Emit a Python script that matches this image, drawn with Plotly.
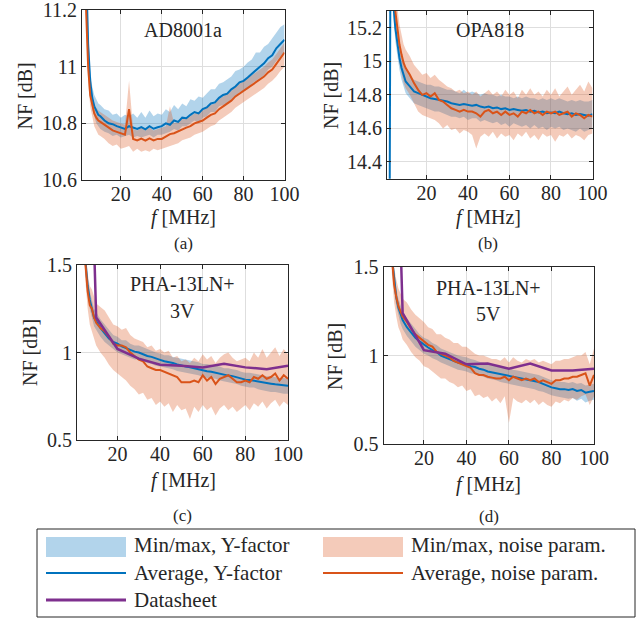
import plotly.graph_objects as go

W, H = 644, 618

# ---------------- data ----------------
FREQ = [1, 2, 3, 4, 5, 6, 7, 8, 9, 10, 12, 14, 16, 18, 20, 22, 24, 26, 28, 30,
        32, 34, 36, 38, 40, 42, 44, 46, 48, 50, 52, 54, 56, 58, 60, 62, 64, 66, 68, 70,
        72, 74, 76, 78, 80, 82, 84, 86, 88, 90, 92, 94, 96, 98, 100]

# (a) AD8001a
a_yf_avg = [12.8, 11.9, 11.35, 11.08, 10.95, 10.89, 10.86, 10.845, 10.83, 10.825,
            10.81, 10.80, 10.797, 10.79, 10.786, 10.78, 10.79, 10.784, 10.78, 10.787,
            10.779, 10.79, 10.781, 10.786, 10.79, 10.80, 10.795, 10.81, 10.805, 10.82,
            10.818, 10.83, 10.84, 10.835, 10.85, 10.856, 10.87, 10.874, 10.89, 10.90,
            10.905, 10.92, 10.93, 10.945, 10.95, 10.962, 10.975, 10.99, 11.0, 11.012,
            11.03, 11.04, 11.065, 11.08, 11.095]
a_yf_min = [12.7, 11.8, 11.3, 11.04, 10.91, 10.85, 10.82, 10.80, 10.79, 10.78,
            10.77, 10.765, 10.755, 10.76, 10.75, 10.755, 10.76, 10.75, 10.755, 10.75,
            10.755, 10.76, 10.75, 10.76, 10.76, 10.765, 10.77, 10.78, 10.775, 10.79,
            10.79, 10.80, 10.81, 10.80, 10.82, 10.825, 10.84, 10.84, 10.86, 10.865,
            10.87, 10.885, 10.895, 10.91, 10.915, 10.92, 10.94, 10.95, 10.96, 10.97,
            10.99, 11.0, 11.02, 11.035, 11.05]
a_yf_max = [12.9, 12.0, 11.42, 11.13, 10.99, 10.93, 10.90, 10.885, 10.87, 10.865,
            10.85, 10.845, 10.83, 10.835, 10.82, 10.83, 10.825, 10.835, 10.82, 10.84,
            10.82, 10.845, 10.825, 10.835, 10.83, 10.85, 10.84, 10.865, 10.85, 10.87,
            10.86, 10.885, 10.88, 10.895, 10.89, 10.905, 10.92, 10.92, 10.94, 10.945,
            10.955, 10.965, 10.985, 10.99, 11.0, 11.015, 11.025, 11.05, 11.05, 11.07,
            11.08, 11.1, 11.12, 11.14, 11.15]
a_np_avg = [12.6, 11.7, 11.2, 11.0, 10.9, 10.86, 10.835, 10.82, 10.81, 10.805,
            10.795, 10.785, 10.775, 10.77, 10.765, 10.76, 10.85, 10.745, 10.74, 10.746,
            10.739, 10.747, 10.74, 10.745, 10.745, 10.755, 10.762, 10.765, 10.772, 10.78,
            10.785, 10.79, 10.80, 10.805, 10.81, 10.82, 10.83, 10.835, 10.85, 10.86,
            10.87, 10.88, 10.895, 10.905, 10.915, 10.925, 10.935, 10.945, 10.955, 10.965,
            10.98, 10.99, 11.01, 11.03, 11.05]
a_np_min = [12.5, 11.6, 11.14, 10.95, 10.86, 10.82, 10.79, 10.775, 10.76, 10.755,
            10.745, 10.73, 10.72, 10.725, 10.71, 10.715, 10.72, 10.70, 10.71, 10.70,
            10.705, 10.70, 10.71, 10.705, 10.71, 10.715, 10.72, 10.725, 10.73, 10.74,
            10.745, 10.75, 10.76, 10.765, 10.77, 10.78, 10.79, 10.795, 10.81, 10.82,
            10.83, 10.84, 10.855, 10.865, 10.875, 10.885, 10.895, 10.905, 10.915, 10.925,
            10.94, 10.95, 10.965, 10.985, 11.0]
a_np_max = [12.7, 11.8, 11.26, 11.04, 10.94, 10.9, 10.87, 10.855, 10.845, 10.84,
            10.83, 10.82, 10.81, 10.805, 10.80, 10.795, 10.95, 10.78, 10.775, 10.785,
            10.775, 10.785, 10.775, 10.78, 10.785, 10.79, 10.86, 10.8, 10.805, 10.815,
            10.82, 10.825, 10.835, 10.84, 10.845, 10.855, 10.865, 10.87, 10.885, 10.895,
            10.905, 10.915, 10.93, 10.94, 10.95, 10.96, 10.97, 10.98, 10.99, 11.0,
            11.015, 11.025, 11.045, 11.065, 11.085]

# (b) OPA818
b_yf_avg = [13.0, 13.0, 17.0, 15.35, 15.2, 15.1, 15.02, 14.96, 14.92, 14.88,
            14.85, 14.82, 14.81, 14.80, 14.79, 14.78, 14.775, 14.77, 14.765, 14.76,
            14.75, 14.745, 14.74, 14.745, 14.74, 14.735, 14.74, 14.73, 14.725, 14.73,
            14.72, 14.725, 14.715, 14.72, 14.71, 14.715, 14.71, 14.705, 14.71, 14.70,
            14.705, 14.695, 14.70, 14.69, 14.695, 14.69, 14.70, 14.69, 14.685, 14.69,
            14.68, 14.685, 14.68, 14.675, 14.685]
b_yf_min = [12.9, 12.9, 16.9, 15.28, 15.12, 15.02, 14.95, 14.89, 14.85, 14.81,
            14.78, 14.75, 14.74, 14.73, 14.72, 14.71, 14.70, 14.70, 14.69, 14.68,
            14.67, 14.67, 14.66, 14.67, 14.65, 14.66, 14.66, 14.64, 14.65, 14.64,
            14.63, 14.64, 14.62, 14.63, 14.61, 14.63, 14.62, 14.61, 14.62, 14.60,
            14.62, 14.60, 14.61, 14.59, 14.61, 14.60, 14.61, 14.59, 14.60, 14.59,
            14.58, 14.60, 14.58, 14.59, 14.60]
b_yf_max = [13.1, 13.1, 17.1, 15.42, 15.28, 15.17, 15.09, 15.03, 14.99, 14.95,
            14.92, 14.89, 14.88, 14.87, 14.86, 14.86, 14.85, 14.85, 14.84, 14.83,
            14.83, 14.82, 14.81, 14.83, 14.81, 14.82, 14.81, 14.80, 14.81, 14.80,
            14.80, 14.79, 14.80, 14.79, 14.79, 14.78, 14.79, 14.78, 14.79, 14.78,
            14.78, 14.77, 14.78, 14.77, 14.78, 14.77, 14.78, 14.77, 14.76, 14.77,
            14.76, 14.77, 14.76, 14.76, 14.77]
b_np_avg = [17.0, 16.5, 15.9, 15.5, 15.3, 15.18, 15.1, 15.04, 14.99, 14.96,
            14.92, 14.87, 14.83, 14.80, 14.81, 14.79, 14.81, 14.77, 14.76, 14.74,
            14.72, 14.71, 14.70, 14.71, 14.70, 14.70, 14.69, 14.67, 14.70, 14.71,
            14.69, 14.70, 14.68, 14.70, 14.68, 14.69, 14.67, 14.70, 14.69, 14.71,
            14.69, 14.70, 14.68, 14.70, 14.69, 14.70, 14.68, 14.69, 14.70, 14.67,
            14.69, 14.68, 14.66, 14.68, 14.67]
b_np_min = [16.9, 16.4, 15.8, 15.4, 15.2, 15.08, 14.99, 14.93, 14.87, 14.84,
            14.80, 14.75, 14.70, 14.68, 14.67, 14.66, 14.65, 14.63, 14.60, 14.62,
            14.59, 14.60, 14.57, 14.59, 14.58, 14.56, 14.48, 14.55, 14.57, 14.55,
            14.58, 14.54, 14.57, 14.55, 14.56, 14.53, 14.57, 14.55, 14.58, 14.54,
            14.56, 14.53, 14.57, 14.55, 14.56, 14.52, 14.56, 14.55, 14.57, 14.54,
            14.56, 14.55, 14.53, 14.56, 14.57]
b_np_max = [17.1, 16.6, 16.0, 15.6, 15.42, 15.3, 15.22, 15.16, 15.1, 15.07,
            15.03, 14.98, 14.95, 14.92, 14.93, 14.90, 14.92, 14.89, 14.87, 14.85,
            14.84, 14.82, 14.83, 14.81, 14.82, 14.80, 14.82, 14.79, 14.81, 14.83,
            14.80, 14.82, 14.79, 14.83, 14.80, 14.82, 14.78, 14.83, 14.80, 14.84,
            14.80, 14.82, 14.79, 14.83, 14.80, 14.84, 14.79, 14.82, 14.85, 14.80,
            14.83, 14.86, 14.82, 14.88, 14.84]

# (c) PHA-13LN+ 3V
c_yf_avg = [3.2, 2.6, 2.1, 1.75, 1.52, 1.38, 1.3, 1.24, 1.2, 1.18,
            1.14, 1.11, 1.08, 1.06, 1.05, 1.035, 1.025, 1.015, 1.005, 1.0,
            0.99, 0.98, 0.975, 0.965, 0.958, 0.95, 0.946, 0.94, 0.932, 0.925,
            0.92, 0.916, 0.91, 0.905, 0.895, 0.893, 0.89, 0.884, 0.88, 0.87,
            0.868, 0.865, 0.858, 0.85, 0.845, 0.843, 0.838, 0.835, 0.83, 0.825,
            0.822, 0.818, 0.815, 0.81, 0.81]
c_yf_min = [3.1, 2.5, 2.0, 1.68, 1.46, 1.33, 1.25, 1.19, 1.15, 1.13,
            1.09, 1.06, 1.04, 1.02, 1.0, 0.99, 0.98, 0.97, 0.96, 0.96,
            0.95, 0.94, 0.935, 0.925, 0.92, 0.915, 0.91, 0.905, 0.895, 0.89,
            0.885, 0.88, 0.875, 0.87, 0.86, 0.855, 0.855, 0.85, 0.84, 0.835,
            0.83, 0.825, 0.82, 0.81, 0.805, 0.80, 0.80, 0.79, 0.785, 0.78,
            0.775, 0.775, 0.77, 0.765, 0.765]
c_yf_max = [3.3, 2.7, 2.2, 1.82, 1.58, 1.43, 1.35, 1.29, 1.25, 1.23,
            1.19, 1.16, 1.13, 1.10, 1.09, 1.07, 1.07, 1.05, 1.04, 1.04,
            1.03, 1.02, 1.01, 1.0, 0.995, 0.985, 0.985, 0.975, 0.97, 0.965,
            0.96, 0.955, 0.95, 0.945, 0.935, 0.935, 0.93, 0.925, 0.92, 0.91,
            0.91, 0.905, 0.90, 0.89, 0.885, 0.885, 0.88, 0.875, 0.87, 0.865,
            0.865, 0.86, 0.855, 0.855, 0.85]
c_np_avg = [3.0, 2.5, 2.0, 1.7, 1.5, 1.35, 1.27, 1.25, 1.2, 1.17,
            1.14, 1.12, 1.09, 1.05, 1.04, 1.04, 1.03, 1.0, 0.98, 0.96,
            0.95, 0.92, 0.91, 0.90, 0.90, 0.89, 0.88, 0.87, 0.86, 0.83,
            0.83, 0.83, 0.84, 0.83, 0.87, 0.84, 0.86, 0.82, 0.85, 0.86,
            0.87, 0.85, 0.83, 0.83, 0.84, 0.83, 0.86, 0.85, 0.87, 0.85,
            0.86, 0.88, 0.84, 0.87, 0.85]
c_np_min = [2.9, 2.4, 1.9, 1.6, 1.4, 1.25, 1.16, 1.12, 1.08, 1.04,
            1.0, 0.97, 0.93, 0.90, 0.88, 0.86, 0.84, 0.81, 0.79, 0.76,
            0.77, 0.73, 0.74, 0.70, 0.72, 0.69, 0.71, 0.66, 0.70, 0.67,
            0.68, 0.62, 0.69, 0.66, 0.70, 0.67, 0.69, 0.64, 0.68, 0.70,
            0.67, 0.69, 0.66, 0.68, 0.70, 0.67, 0.71, 0.69, 0.72, 0.68,
            0.71, 0.73, 0.69, 0.72, 0.70]
c_np_max = [3.1, 2.6, 2.1, 1.8, 1.6, 1.45, 1.38, 1.36, 1.32, 1.28,
            1.26, 1.24, 1.20, 1.16, 1.15, 1.13, 1.14, 1.10, 1.08, 1.07,
            1.06, 1.03, 1.04, 1.01, 1.02, 1.0, 1.01, 0.97, 0.98, 0.95,
            0.96, 0.94, 0.97, 0.95, 0.99, 0.96, 0.98, 0.94, 0.97, 0.99,
            1.0, 0.97, 0.95, 0.96, 0.97, 0.95, 1.0, 0.97, 1.02, 0.97,
            1.0, 1.03, 0.98, 1.02, 0.99]
c_ds_freq = [5, 10, 20, 30, 40, 50, 60, 70, 80, 90, 100]
c_ds_nf = [3.3, 1.2, 1.02, 0.965, 0.93, 0.925, 0.915, 0.935, 0.915, 0.905, 0.925]

# (d) PHA-13LN+ 5V
d_yf_avg = [3.2, 2.6, 2.1, 1.75, 1.55, 1.42, 1.33, 1.27, 1.23, 1.2,
            1.16, 1.13, 1.1, 1.08, 1.06, 1.045, 1.03, 1.02, 1.0, 0.99,
            0.98, 0.97, 0.96, 0.955, 0.95, 0.94, 0.935, 0.925, 0.92, 0.91,
            0.905, 0.9, 0.895, 0.89, 0.885, 0.88, 0.875, 0.87, 0.865, 0.86,
            0.855, 0.85, 0.84, 0.83, 0.82, 0.815, 0.81, 0.81, 0.805, 0.81,
            0.8, 0.805, 0.79, 0.795, 0.8]
d_yf_min = [3.1, 2.5, 2.0, 1.68, 1.49, 1.36, 1.28, 1.22, 1.18, 1.15,
            1.11, 1.08, 1.05, 1.03, 1.01, 1.0, 0.985, 0.975, 0.96, 0.95,
            0.94, 0.93, 0.92, 0.915, 0.91, 0.9, 0.895, 0.885, 0.88, 0.87,
            0.865, 0.86, 0.85, 0.845, 0.84, 0.835, 0.83, 0.825, 0.82, 0.815,
            0.81, 0.8, 0.795, 0.785, 0.775, 0.77, 0.765, 0.76, 0.755, 0.76,
            0.745, 0.755, 0.735, 0.745, 0.75]
d_yf_max = [3.3, 2.7, 2.2, 1.82, 1.61, 1.48, 1.38, 1.32, 1.28, 1.25,
            1.21, 1.18, 1.15, 1.12, 1.1, 1.09, 1.07, 1.06, 1.04, 1.03,
            1.02, 1.01, 1.0, 0.995, 0.99, 0.98, 0.975, 0.965, 0.96, 0.95,
            0.945, 0.94, 0.935, 0.93, 0.93, 0.92, 0.915, 0.91, 0.905, 0.9,
            0.895, 0.89, 0.88, 0.87, 0.86, 0.855, 0.85, 0.85, 0.845, 0.85,
            0.84, 0.845, 0.83, 0.835, 0.84]
d_np_avg = [3.0, 2.5, 2.05, 1.75, 1.55, 1.40, 1.33, 1.28, 1.25, 1.22,
            1.19, 1.15, 1.12, 1.10, 1.08, 1.06, 1.05, 1.02, 1.01, 1.0,
            0.99, 0.97, 0.96, 0.95, 0.94, 0.93, 0.90, 0.89, 0.89, 0.88,
            0.875, 0.87, 0.87, 0.88, 0.86, 0.88, 0.87, 0.86, 0.87, 0.86,
            0.87, 0.85, 0.86, 0.85, 0.84, 0.86, 0.86, 0.87, 0.87, 0.88,
            0.88, 0.89, 0.90, 0.83, 0.89]
d_np_min = [2.9, 2.4, 1.95, 1.65, 1.45, 1.3, 1.22, 1.16, 1.13, 1.09,
            1.06, 1.02, 0.99, 0.97, 0.94, 0.93, 0.91, 0.89, 0.87, 0.87,
            0.85, 0.84, 0.82, 0.83, 0.80, 0.81, 0.77, 0.78, 0.76, 0.77,
            0.74, 0.76, 0.73, 0.77, 0.62, 0.76, 0.74, 0.73, 0.75, 0.73,
            0.75, 0.72, 0.74, 0.72, 0.71, 0.74, 0.73, 0.75, 0.74, 0.76,
            0.75, 0.77, 0.78, 0.72, 0.77]
d_np_max = [3.1, 2.6, 2.15, 1.85, 1.65, 1.5, 1.43, 1.38, 1.35, 1.32,
            1.3, 1.26, 1.23, 1.21, 1.19, 1.16, 1.15, 1.12, 1.12, 1.1,
            1.09, 1.07, 1.07, 1.05, 1.05, 1.03, 1.01, 1.0, 1.0, 0.99,
            0.98, 0.98, 0.97, 0.99, 0.96, 0.99, 0.97, 0.96, 0.98, 0.97,
            0.98, 0.96, 0.97, 0.96, 0.95, 0.97, 0.97, 0.98, 0.98, 0.99,
            1.0, 1.0, 1.02, 0.95, 1.04]
d_ds_freq = [5, 10, 20, 30, 40, 50, 60, 70, 80, 90, 100]
d_ds_nf = [3.3, 1.24, 1.03, 1.01, 0.95, 0.955, 0.925, 0.955, 0.915, 0.915, 0.925]

Y_TICKS = {
    "a": [10.6, 10.8, 11.0, 11.2],
    "b": [14.4, 14.6, 14.8, 15.0, 15.2],
    "c": [0.5, 1.0, 1.5],
    "d": [0.5, 1.0, 1.5],
}
Y_TICKTEXT = {
    "a": ["10.6", "10.8", "11", "11.2"],
    "b": ["14.4", "14.6", "14.8", "15", "15.2"],
    "c": ["0.5", "1", "1.5"],
    "d": ["0.5", "1", "1.5"],
}
X_TICKS = [20, 40, 60, 80, 100]
TITLES = {"a": ["AD8001a"], "b": ["OPA818"], "c": ["PHA-13LN+", "3V"], "d": ["PHA-13LN+", "5V"]}
LEGEND_LABELS = ["Min/max, Y-factor", "Min/max, noise param.",
                 "Average, Y-factor", "Average, noise param.", "Datasheet"]

# ---------------- style ----------------
BLUE = "#0072BD"
ORANGE = "#D95319"
PURPLE = "#7E2F8E"
BLUE_FILL = "rgba(0,114,189,0.3)"
ORANGE_FILL = "rgba(217,83,25,0.3)"
AX = "#262626"
GRID = "#dedede"
FONT = "Liberation Serif, Times New Roman, DejaVu Serif, serif"

def px(x):
    return x / W

def py(y):
    return 1 - y / H

# panel geometry in pixels: (left, right, top, bottom)
PANELS = {
    "a": (82, 284.5, 10, 180),
    "b": (387, 592.5, 11, 178.7),
    "c": (77, 288, 265, 440),
    "d": (383.5, 594, 267, 444),
}
Y_RANGES = {"a": [10.6, 11.2001], "b": [14.3, 15.3], "c": [0.5, 1.5001], "d": [0.5, 1.5001]}

fig = go.Figure()

panel_data = {
    "a": (a_yf_min, a_yf_max, a_yf_avg, a_np_min, a_np_max, a_np_avg, None, None),
    "b": (b_yf_min, b_yf_max, b_yf_avg, b_np_min, b_np_max, b_np_avg, None, None),
    "c": (c_yf_min, c_yf_max, c_yf_avg, c_np_min, c_np_max, c_np_avg, c_ds_freq, c_ds_nf),
    "d": (d_yf_min, d_yf_max, d_yf_avg, d_np_min, d_np_max, d_np_avg, d_ds_freq, d_ds_nf),
}

annotations = []
layout_axes = {}
for i, key in enumerate(["a", "b", "c", "d"]):
    n = "" if i == 0 else str(i + 1)
    xa, ya = "x" + n, "y" + n
    ymin, ymax, yavg, nmin, nmax, navg, dsx, dsy = panel_data[key]
    common = dict(xaxis=xa, yaxis=ya, mode="lines", hoverinfo="skip", showlegend=False)
    fig.add_trace(go.Scatter(x=FREQ, y=ymin, line=dict(width=0, color=BLUE), **common))
    fig.add_trace(go.Scatter(x=FREQ, y=ymax, line=dict(width=0, color=BLUE),
                             fill="tonexty", fillcolor=BLUE_FILL, **common))
    fig.add_trace(go.Scatter(x=FREQ, y=nmin, line=dict(width=0, color=ORANGE), **common))
    fig.add_trace(go.Scatter(x=FREQ, y=nmax, line=dict(width=0, color=ORANGE),
                             fill="tonexty", fillcolor=ORANGE_FILL, **common))
    fig.add_trace(go.Scatter(x=FREQ, y=yavg, line=dict(width=2, color=BLUE), **common))
    fig.add_trace(go.Scatter(x=FREQ, y=navg, line=dict(width=2, color=ORANGE), **common))
    if dsx is not None:
        fig.add_trace(go.Scatter(x=dsx, y=dsy, line=dict(width=2.5, color=PURPLE), **common))

    l, r, t, b = PANELS[key]
    axcommon = dict(showline=True, mirror="ticks", linecolor=AX, linewidth=1,
                    ticks="inside", ticklen=4, tickcolor=AX, tickwidth=1,
                    showgrid=True, gridcolor=GRID, gridwidth=1, zeroline=False,
                    automargin=False, ticklabeloverflow="allow",
                    tickfont=dict(family=FONT, size=20, color=AX))
    layout_axes["xaxis" + n] = dict(domain=[px(l), px(r)], anchor=ya, range=[1, 100],
                                    tickvals=X_TICKS, ticklabelstandoff=-4, **axcommon)
    layout_axes["yaxis" + n] = dict(domain=[py(b), py(t)], anchor=xa, range=Y_RANGES[key],
                                    tickvals=Y_TICKS[key], ticktext=Y_TICKTEXT[key], **axcommon)

# text positions (pixels)
ylabel_pos = {"a": (24.5, 96), "b": (331, 96), "c": (30, 353), "d": (335, 357)}
xlabel_pos = {"a": (183, 217), "b": (488.5, 217), "c": (183, 480), "d": (488.5, 484)}
cap_pos = {"a": (183, 244), "b": (488, 244), "c": (182.5, 515), "d": (489, 516)}
title_pos = {"a": [(183, 30)], "b": [(490, 30)], "c": [(182, 284), (182, 311)],
             "d": [(488.5, 287.5), (488.5, 314)]}

def ann(text, x, y, size=20, angle=0, xanchor="center"):
    annotations.append(dict(text=text, x=px(x), y=py(y), xref="paper", yref="paper",
                            showarrow=False, xanchor=xanchor, yanchor="middle",
                            textangle=angle, font=dict(family=FONT, size=size, color=AX)))

for key in ["a", "b", "c", "d"]:
    ann("NF [dB]", *ylabel_pos[key], angle=-90)
    ann("<i>f</i> [MHz]", *xlabel_pos[key])
    ann("(" + key + ")", *cap_pos[key], size=17)
    for line, pos in zip(TITLES[key], title_pos[key]):
        ann(line, *pos)

# legend drawn manually
shapes = [dict(type="rect", xref="paper", yref="paper", x0=px(37), x1=px(635), y0=py(617), y1=py(529),
               line=dict(color=AX, width=1), fillcolor="white", layer="above")]
shapes.append(dict(type="rect", xref="paper", yref="paper", x0=px(46), x1=px(126), y0=py(557), y1=py(537),
                   line=dict(width=0), fillcolor=BLUE_FILL, layer="above"))
shapes.append(dict(type="rect", xref="paper", yref="paper", x0=px(323), x1=px(403), y0=py(557), y1=py(537),
                   line=dict(width=0), fillcolor=ORANGE_FILL, layer="above"))
for (x0, x1, yy, col, wd) in [(46, 126, 573, BLUE, 2), (323, 403, 573, ORANGE, 2), (46, 126, 600, PURPLE, 3)]:
    shapes.append(dict(type="line", xref="paper", yref="paper", x0=px(x0), x1=px(x1), y0=py(yy), y1=py(yy),
                       line=dict(color=col, width=wd), layer="above"))
ann(LEGEND_LABELS[0], 132, 545, size=21, xanchor="left")
ann(LEGEND_LABELS[1], 409, 545, size=21, xanchor="left")
ann(LEGEND_LABELS[2], 132, 573, size=21, xanchor="left")
ann(LEGEND_LABELS[3], 409, 573, size=21, xanchor="left")
ann(LEGEND_LABELS[4], 132, 600, size=21, xanchor="left")

fig.update_layout(template="none", width=W, height=H, margin=dict(l=0, r=0, t=0, b=0),
                  paper_bgcolor="white", plot_bgcolor="white",
                  annotations=annotations, shapes=shapes, showlegend=False,
                  font=dict(family=FONT, size=20, color=AX), **layout_axes)

fig.write_html("out.html", config={"displayModeBar": False},
               post_script="document.body.style.margin='0px';")
